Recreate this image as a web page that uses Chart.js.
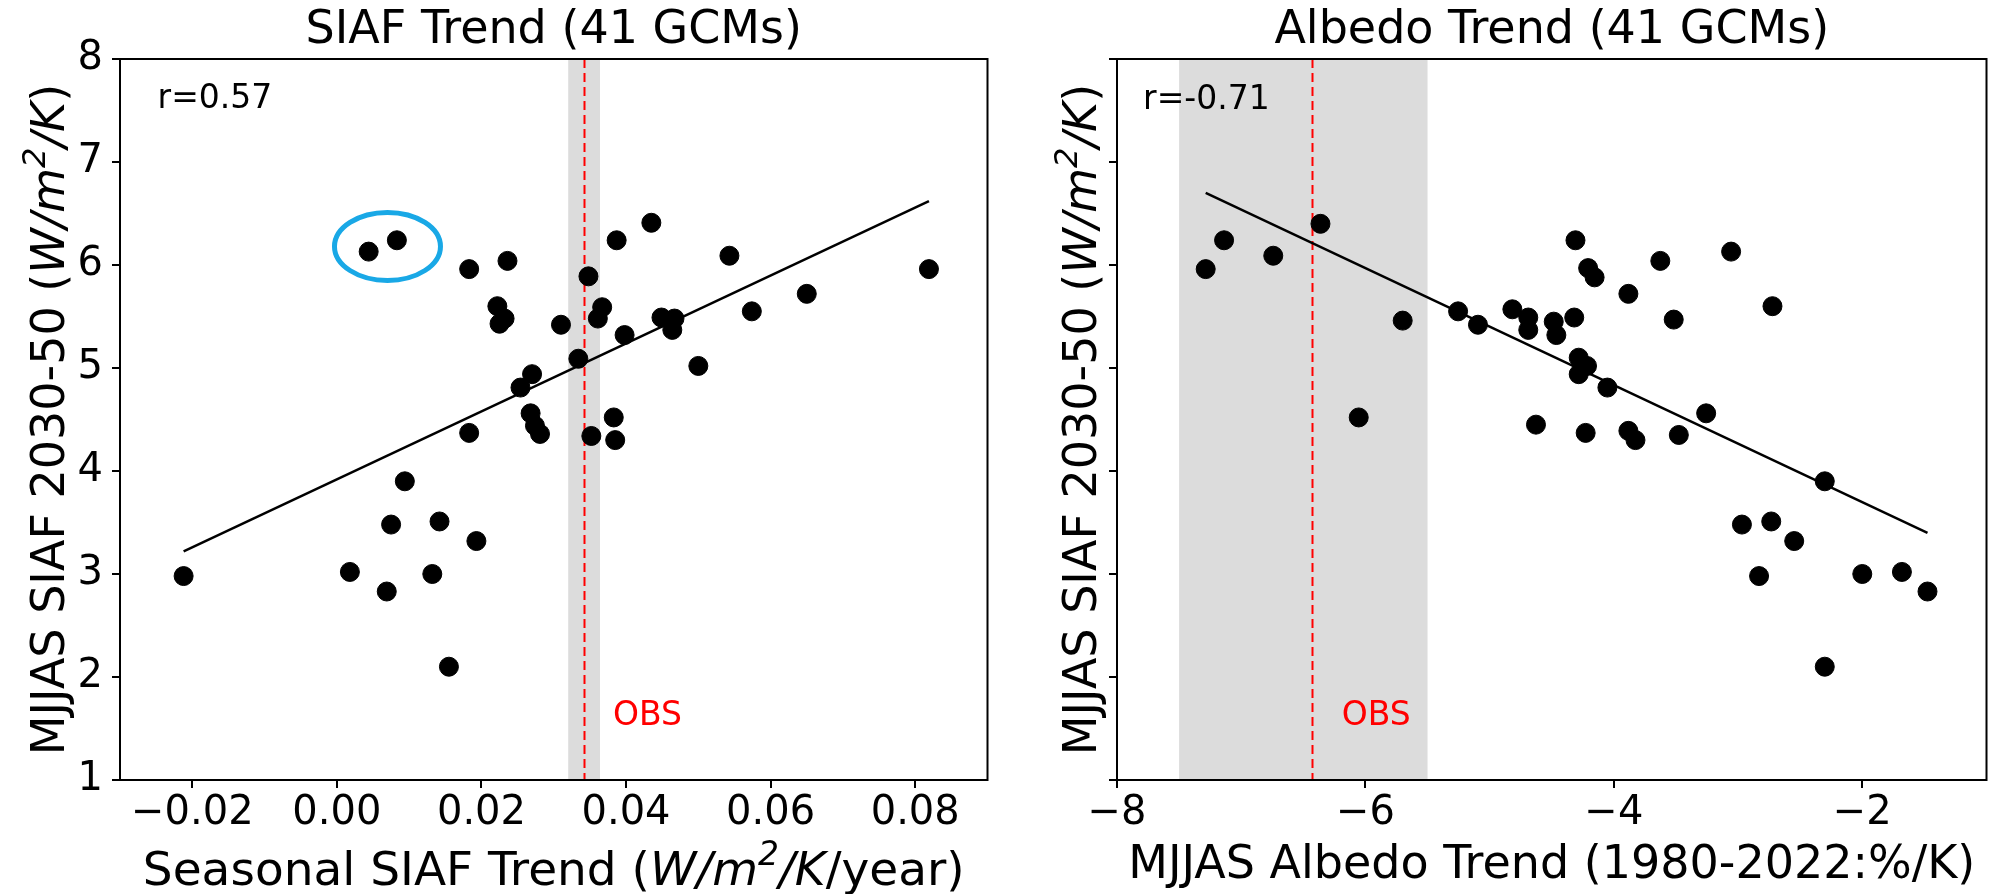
<!DOCTYPE html>
<html>
<head>
<meta charset="utf-8">
<script src="https://cdn.jsdelivr.net/npm/chart.js@4"></script>
<style>
  body { margin:0; background:#fff; }
  #wrap { position:relative; width:1997px; height:894px; background:#fff; }
  canvas { position:absolute; top:0; }
</style>
</head>
<body>
<div id="wrap">
  <canvas id="left" width="998" height="894" style="left:0"></canvas>
  <canvas id="right" width="998" height="894" style="left:999px"></canvas>
</div>
<script>
// left panel : seasonal SIAF trend vs MJJAS SIAF 2030-50
var siafX = [0.0044,0.0083,0.0183,0.0236,0.0387,0.0435,0.0543,0.0819,0.0348,0.0650,
  0.0574,0.0222,0.0232,0.0225,0.0367,0.0361,0.0310,0.0398,0.0449,0.0467,
  0.0464,0.0500,0.0334,0.0270,0.0254,0.0268,0.0274,0.0281,0.0183,0.0383,
  0.0352,0.0385,0.0094,0.0075,0.0142,0.0193,-0.0212,0.0018,0.0132,0.0069,0.0155];
var siafY = [6.13,6.24,5.96,6.04,6.24,6.41,6.09,5.96,5.89,5.72,
  5.55,5.60,5.48,5.43,5.59,5.48,5.42,5.32,5.49,5.48,
  5.37,5.02,5.09,4.94,4.81,4.56,4.44,4.36,4.37,4.52,
  4.34,4.30,3.90,3.48,3.51,3.32,2.98,3.02,3.00,2.83,2.10];
var siafFitX = [-0.0212, 0.0819];
var siafFitY = [3.22, 6.62];
var siafObs = 0.0342;
var siafBand = [0.0320, 0.0364];
var siafTicks = [-0.02, 0.00, 0.02, 0.04, 0.06, 0.08];

// right panel : MJJAS albedo trend vs MJJAS SIAF 2030-50
var albX = [-7.286,-7.138,-6.742,-6.362,-5.700,-5.254,-5.094,-4.817,-4.689,-4.689,
  -4.484,-4.463,-4.319,-4.309,-4.207,-4.155,-3.883,-3.626,-3.518,-3.056,
  -2.723,-4.283,-4.216,-4.283,-4.052,-6.054,-4.627,-4.227,-3.883,-3.826,
  -3.477,-3.257,-2.302,-2.969,-2.733,-2.548,-2.831,-2.000,-1.681,-1.475,-2.302];
var albY = [5.96,6.24,6.09,6.40,5.46,5.55,5.42,5.57,5.49,5.37,
  5.45,5.32,5.49,6.24,5.97,5.88,5.72,6.04,5.47,6.13,
  5.60,5.10,5.02,4.94,4.81,4.52,4.45,4.37,4.39,4.30,
  4.35,4.56,3.90,3.48,3.51,3.32,2.98,3.00,3.02,2.83,2.10];
var albFitX = [-7.286, -1.475];
var albFitY = [6.70, 3.40];
var albObs = -6.43;
var albBand = [-7.5, -5.5];
var albTicks = [-8, -6, -4, -2];

var yTicks = [1, 2, 3, 4, 5, 6, 7, 8];

var FONT = '"DejaVu Sans", sans-serif';

function pts(xs, ys){
  return xs.map(function(v,i){ return {x:v, y:ys[i]}; });
}
function minus(s){ return s.replace('-', '\u2212'); }

function drawRich(ctx, segs, size, x, y, rot){
  ctx.save();
  ctx.translate(x, y);
  ctx.rotate(rot);
  ctx.textBaseline = 'alphabetic';
  ctx.textAlign = 'left';
  ctx.fillStyle = '#000';
  var total = 0;
  segs.forEach(function(s){
    ctx.font = (s.i ? 'italic ' : '') + (s.sup ? size*0.7 : size) + 'px ' + FONT;
    total += ctx.measureText(s.t).width;
  });
  var cx = -total/2;
  segs.forEach(function(s){
    ctx.font = (s.i ? 'italic ' : '') + (s.sup ? size*0.7 : size) + 'px ' + FONT;
    ctx.fillText(s.t, cx, s.sup ? -size*0.42 : 0);
    cx += ctx.measureText(s.t).width;
  });
  ctx.restore();
}

var yTitle = [{t:'MJJAS SIAF 2030-50 ('},{t:'W/m',i:true},{t:'2',i:true,sup:true},{t:'/K',i:true},{t:')'}];

function makeChart(id, o){
  var deco = {
    id: 'deco',
    beforeDatasetsDraw: function(chart){
      var ctx = chart.ctx, a = chart.chartArea, sx = chart.scales.x;
      ctx.save();
      var b1 = sx.getPixelForValue(o.band[0]), b2 = sx.getPixelForValue(o.band[1]);
      ctx.fillStyle = '#dcdcdc';
      ctx.fillRect(b1, a.top, b2 - b1, a.bottom - a.top);
      var xo = Math.round(sx.getPixelForValue(o.obs)) + 0.5;
      ctx.strokeStyle = '#ff0000';
      ctx.lineWidth = 2;
      ctx.setLineDash([9, 5]);
      ctx.beginPath();
      ctx.moveTo(xo, a.top);
      ctx.lineTo(xo, a.bottom);
      ctx.stroke();
      ctx.restore();
    },
    afterDraw: function(chart){
      var ctx = chart.ctx, a = chart.chartArea, sx = chart.scales.x, sy = chart.scales.y;
      ctx.save();
      ctx.strokeStyle = '#000';
      ctx.lineWidth = 2;
      ctx.strokeRect(a.left, a.top, a.right - a.left, a.bottom - a.top);
      // titles
      ctx.fillStyle = '#000';
      ctx.font = '46px ' + FONT;
      ctx.textAlign = 'center';
      ctx.textBaseline = 'alphabetic';
      ctx.fillText(o.title, (a.left + a.right)/2, 43);
      drawRich(ctx, o.xTitle, o.xTitleSize, (a.left + a.right)/2, o.xTitleY, 0);
      drawRich(ctx, yTitle, 46, o.yTitleX, (a.top + a.bottom)/2, -Math.PI/2);
      // r value
      ctx.font = '33px ' + FONT;
      ctx.textAlign = 'left';
      ctx.textBaseline = 'middle';
      ctx.fillText(o.r, sx.getPixelForValue(o.rPos[0]), sy.getPixelForValue(o.rPos[1]));
      // OBS label
      ctx.fillStyle = '#ff0000';
      ctx.fillText('OBS', sx.getPixelForValue(o.obsText[0]), sy.getPixelForValue(o.obsText[1]));
      if (o.ring) {
        ctx.strokeStyle = '#19a8e6';
        ctx.lineWidth = 5;
        ctx.beginPath();
        ctx.ellipse(sx.getPixelForValue(o.ring[0]), sy.getPixelForValue(o.ring[1]), 53, 34, 0, 0, Math.PI*2);
        ctx.stroke();
      }
      ctx.restore();
    }
  };

  return new Chart(document.getElementById(id), {
    type: 'scatter',
    data: {
      datasets: [{
        data: pts(o.xs, o.ys),
        backgroundColor: '#000',
        borderColor: '#000',
        pointRadius: 9.5,
        pointHoverRadius: 9.5
      }, {
        data: pts(o.fitX, o.fitY),
        showLine: true,
        borderColor: '#000',
        borderWidth: 2.5,
        pointRadius: 0,
        fill: false
      }]
    },
    options: {
      responsive: false,
      animation: false,
      layout: { padding: { left: 0, top: 59, right: o.padRight, bottom: 0 } },
      plugins: { legend: { display: false }, tooltip: { enabled: false } },
      scales: {
        x: {
          type: 'linear',
          min: o.xMin, max: o.xMax,
          afterBuildTicks: function(s){ s.ticks = o.xTicks.map(function(v){ return {value:v}; }); },
          afterFit: function(s){ s.height = 114; },
          border: { display: false },
          grid: { drawOnChartArea: false, drawTicks: true, tickLength: 8, color: '#000', lineWidth: 2 },
          ticks: {
            color: '#000', font: { family: FONT, size: 40 }, padding: 2, maxRotation: 0, autoSkip: false,
            callback: o.fmt
          }
        },
        y: {
          type: 'linear',
          min: 1, max: 8,
          afterBuildTicks: function(s){ s.ticks = yTicks.map(function(v){ return {value:v}; }); },
          afterFit: function(s){ s.width = o.yWidth; },
          border: { display: false },
          grid: { drawOnChartArea: false, drawTicks: true, tickLength: 8, color: '#000', lineWidth: 2 },
          ticks: {
            display: o.yLabels, color: '#000', font: { family: FONT, size: 40 }, padding: 9,
            callback: function(v){ return String(v); }
          }
        }
      }
    },
    plugins: [deco]
  });
}

makeChart('left', {
  xs: siafX, ys: siafY, fitX: siafFitX, fitY: siafFitY,
  obs: siafObs, band: siafBand, xTicks: siafTicks, xMin: -0.03, xMax: 0.09,
  fmt: function(v){ return minus(v.toFixed(2)); },
  padRight: 8, yWidth: 120, yLabels: true,
  title: 'SIAF Trend (41 GCMs)',
  xTitle: [{t:'Seasonal SIAF Trend ('},{t:'W/m',i:true},{t:'2',i:true,sup:true},{t:'/K',i:true},{t:'/year)'}],
  xTitleSize: 47, xTitleY: 885, yTitleX: 64,
  r: 'r=0.57', rPos: [-0.0248, 7.61],
  obsText: [0.0382, 1.62],
  ring: [0.0070, 6.18]
});

makeChart('right', {
  xs: albX, ys: albY, fitX: albFitX, fitY: albFitY,
  obs: albObs, band: albBand, xTicks: albTicks, xMin: -8, xMax: -1,
  fmt: function(v){ return minus(String(v)); },
  padRight: 10, yWidth: 118, yLabels: false,
  title: 'Albedo Trend (41 GCMs)',
  xTitle: [{t:'MJJAS Albedo Trend (1980-2022:%/K)'}],
  xTitleSize: 46, xTitleY: 878, yTitleX: 97,
  r: 'r=-0.71', rPos: [-7.79, 7.6],
  obsText: [-6.19, 1.62]
});
</script>
</body>
</html>
